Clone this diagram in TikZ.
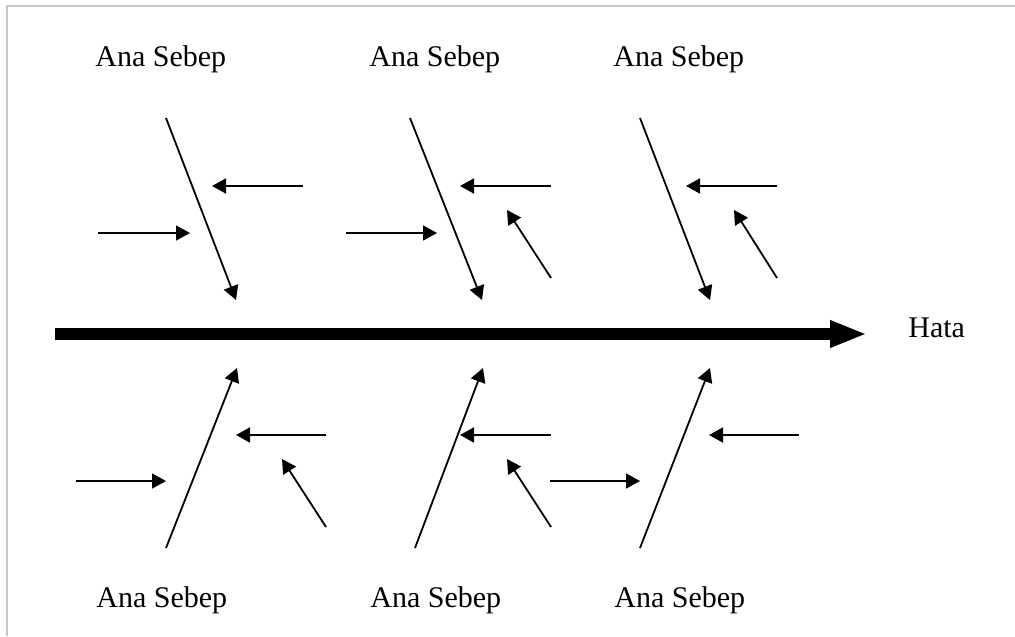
\documentclass[tikz,border=0pt]{standalone}
\usepackage{fontspec}
\setmainfont{Liberation Serif}
\usetikzlibrary{arrows.meta}
\tikzset{
  fishbone/.style={
    x=0.5pt,y=-0.5pt,>={Triangle[length=7pt,width=7.5pt]}
  },
  spine/.style={
    line width=6pt,-{Triangle[length=18.5pt,width=12.5pt]}
  },
  bone/.style={
    line width=0.9pt,->
  },
  twig/.style={
    line width=0.9pt,->
  },
  cause/.style={
    inner sep=0pt,anchor=base west,font=\fontsize{15}{18}\selectfont
  },
  frame/.style={
    draw=black!22,line width=1pt
  }
}

\begin{document}
\begin{tikzpicture}[fishbone]
    \useasboundingbox (0,0) rectangle (1015,636);
    \draw [frame] (7,636) -- (7,6) -- (1015,6);

    \node (c1) at (95,67) [cause] {Ana Sebep};
    \node (c2) at (369,67) [cause] {Ana Sebep};
    \node (c3) at (613,67) [cause] {Ana Sebep};
    \node (c4) at (96,607) [cause] {Ana Sebep};
    \node (c5) at (370,607) [cause] {Ana Sebep};
    \node (c6) at (614,607) [cause] {Ana Sebep};
    \node (err) at (908,337) [cause] {Hata};

    \coordinate (tail) at (55,334);
    \coordinate (head) at (867,334);
    \draw [spine] (tail) -- (head);

    % upper bones
    \coordinate (t1) at (166,118);
    \coordinate (s1) at (236,300);
    \coordinate (t2) at (410,118);
    \coordinate (s2) at (482,300);
    \coordinate (t3) at (640,118);
    \coordinate (s3) at (710,300);
    \draw [bone] (t1) -- (s1);
    \draw [bone] (t2) -- (s2);
    \draw [bone] (t3) -- (s3);

    % lower bones
    \coordinate (b1) at (166,548);
    \coordinate (r1) at (237,368);
    \coordinate (b2) at (415,548);
    \coordinate (r2) at (483,368);
    \coordinate (b3) at (640,548);
    \coordinate (r3) at (710,368);
    \draw [bone] (b1) -- (r1);
    \draw [bone] (b2) -- (r2);
    \draw [bone] (b3) -- (r3);

    % sub-causes, top row
    \coordinate (u1a) at (98,233);
    \coordinate (u1b) at (190,233);
    \coordinate (u1c) at (303,186);
    \coordinate (u1d) at (212,186);
    \coordinate (u2a) at (346,233);
    \coordinate (u2b) at (437,233);
    \coordinate (u2c) at (551,186);
    \coordinate (u2d) at (460,186);
    \coordinate (u2e) at (551,278);
    \coordinate (u2f) at (507,210);
    \coordinate (u3c) at (777,186);
    \coordinate (u3d) at (686,186);
    \coordinate (u3e) at (777,278);
    \coordinate (u3f) at (734,210);
    \draw [twig] (u1a) -- (u1b);
    \draw [twig] (u1c) -- (u1d);
    \draw [twig] (u2a) -- (u2b);
    \draw [twig] (u2c) -- (u2d);
    \draw [twig] (u2e) -- (u2f);
    \draw [twig] (u3c) -- (u3d);
    \draw [twig] (u3e) -- (u3f);

    % sub-causes, bottom row
    \coordinate (l1a) at (76,481);
    \coordinate (l1b) at (166,481);
    \coordinate (l1c) at (326,435);
    \coordinate (l1d) at (236,435);
    \coordinate (l1e) at (326,527);
    \coordinate (l1f) at (282,459);
    \coordinate (l2a) at (550,481);
    \coordinate (l2b) at (640,481);
    \coordinate (l2c) at (551,435);
    \coordinate (l2d) at (460,435);
    \coordinate (l2e) at (551,527);
    \coordinate (l2f) at (507,459);
    \coordinate (l3c) at (799,435);
    \coordinate (l3d) at (709,435);
    \draw [twig] (l1a) -- (l1b);
    \draw [twig] (l1c) -- (l1d);
    \draw [twig] (l1e) -- (l1f);
    \draw [twig] (l2a) -- (l2b);
    \draw [twig] (l2c) -- (l2d);
    \draw [twig] (l2e) -- (l2f);
    \draw [twig] (l3c) -- (l3d);
\end{tikzpicture}
\end{document}
